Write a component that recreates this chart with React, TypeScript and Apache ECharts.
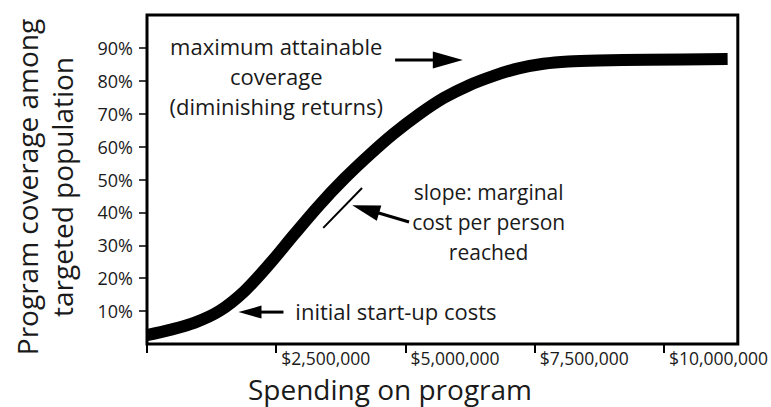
import React, { useEffect, useRef } from "react";
import * as echarts from "echarts";

// Curve: spending ($) vs coverage (%)
const spending = [0, 443000, 925000, 1407000, 1888000, 2370000, 2852000, 3333000, 3815000, 4297000, 4778000, 5260000, 5742000, 6224000, 6705000, 7187000, 7669000, 8150000, 8728000, 9692000, 11233000];
const coverage = [2.7, 4.3, 6.5, 10.1, 16.1, 24.3, 33.4, 42.2, 50.2, 57.4, 64.0, 69.8, 74.8, 78.6, 81.5, 83.8, 85.2, 85.9, 86.2, 86.4, 86.6];

// Short tangent segment (slope annotation)
const tangentX = [3410000, 4160000];
const tangentY = [35.3, 47.4];

// Axis ticks / labels
const xTickValues = [0, 2500000, 5000000, 7500000, 10000000];
const xLabelValues = [2500000, 5000000, 7500000, 10000000];
const yTickValues = [10, 20, 30, 40, 50, 60, 70, 80, 90];
const xMax = 11430000;

// Annotation texts
const maxText = "maximum attainable\ncoverage\n(diminishing returns)";
const slopeText = "slope: marginal\ncost per person\nreached";
const initText = "initial start-up costs";
const xTitle = "Spending on program";
const yTitle = "Program coverage among\ntargeted population";

const FONT = "'Open Sans', 'Noto Sans', sans-serif";

export default function App() {
  const ref = useRef<HTMLDivElement>(null);

  useEffect(() => {
    if (!ref.current) return;
    const chart = echarts.init(ref.current, undefined, { renderer: "svg" });
    chart.setOption({
      animation: false,
      backgroundColor: "#fff",
      textStyle: { fontFamily: FONT },
      grid: {
        left: 147,
        top: 15,
        right: 31,
        bottom: 63,
        show: true,
        borderColor: "#000",
        borderWidth: 3,
        backgroundColor: "transparent",
      },
      xAxis: {
        type: "value",
        min: 0,
        max: xMax,
        axisLine: { show: false },
        splitLine: { show: false },
        axisTick: {
          show: true,
          length: 9,
          customValues: xTickValues,
          lineStyle: { color: "#000", width: 2 },
        },
        axisLabel: {
          show: true,
          customValues: xLabelValues,
          align: "left",
          margin: 6,
          padding: [0, 0, 0, 5],
          fontSize: 17.5,
          lineHeight: 16,
          color: "#1a1a1a",
          fontFamily: FONT,
          formatter: (v: number) => "$" + v.toLocaleString("en-US"),
        },
      },
      yAxis: {
        type: "value",
        min: 0,
        max: 100,
        axisLine: { show: false },
        splitLine: { show: false },
        axisTick: {
          show: true,
          length: 8,
          customValues: yTickValues,
          lineStyle: { color: "#000", width: 1.5 },
        },
        axisLabel: {
          show: true,
          customValues: yTickValues,
          margin: 14,
          fontSize: 18,
          color: "#1a1a1a",
          fontFamily: FONT,
          formatter: (v: number) => v + "%",
        },
      },
      series: [
        {
          type: "line",
          name: "coverage",
          data: spending.map((x, i) => [x, coverage[i]]),
          smooth: 0.3,
          showSymbol: false,
          symbol: "none",
          clip: true,
          lineStyle: { color: "#000", width: 12, cap: "butt", join: "round" },
          z: 3,
        },
        {
          type: "line",
          name: "tangent",
          data: tangentX.map((x, i) => [x, tangentY[i]]),
          showSymbol: false,
          symbol: "none",
          lineStyle: { color: "#000", width: 2 },
          z: 3,
        },
      ],
    });

    const p = (x: number, y: number) =>
      chart.convertToPixel({ gridIndex: 0 }, [x, y]) as number[];

    const arrow = (tail: number[], tip: number[], headLen: number, headHalf: number, width: number) => {
      const dx = tip[0] - tail[0];
      const dy = tip[1] - tail[1];
      const len = Math.hypot(dx, dy);
      const ux = dx / len;
      const uy = dy / len;
      const bx = tip[0] - ux * headLen;
      const by = tip[1] - uy * headLen;
      const nx = -uy;
      const ny = ux;
      return [
        {
          type: "line",
          shape: { x1: tail[0], y1: tail[1], x2: bx + ux * 3, y2: by + uy * 3 },
          style: { stroke: "#000", lineWidth: width },
          z: 10,
        },
        {
          type: "polygon",
          shape: {
            points: [
              [tip[0], tip[1]],
              [bx + nx * headHalf, by + ny * headHalf],
              [bx - nx * headHalf, by - ny * headHalf],
            ],
          },
          style: { fill: "#000" },
          z: 10,
        },
      ];
    };

    const maxPos = p(2500000, 81.5);
    const slopePos = p(6610000, 37.1);
    const initPos = p(2870000, 10.0);

    chart.setOption({
      graphic: [
        ...arrow(p(4800000, 86.3), p(6110000, 86.3), 30, 8.5, 3),
        ...arrow(p(5070000, 37.1), p(3970000, 42.2), 28, 8, 3),
        ...arrow(p(2640000, 9.7), p(1770000, 9.7), 23, 6.5, 3),
        {
          type: "text",
          x: maxPos[0],
          y: maxPos[1],
          z: 10,
          style: {
            text: maxText,
            fontSize: 22,
            lineHeight: 30,
            fontFamily: FONT,
            fill: "#1a1a1a",
            align: "center",
            verticalAlign: "middle",
          },
        },
        {
          type: "text",
          x: slopePos[0],
          y: slopePos[1],
          z: 10,
          style: {
            text: slopeText,
            fontSize: 21,
            lineHeight: 30,
            fontFamily: FONT,
            fill: "#1a1a1a",
            align: "center",
            verticalAlign: "middle",
          },
        },
        {
          type: "text",
          x: initPos[0],
          y: initPos[1],
          z: 10,
          style: {
            text: initText,
            fontSize: 22,
            fontFamily: FONT,
            fill: "#1a1a1a",
            align: "left",
            verticalAlign: "middle",
          },
        },
        {
          type: "text",
          x: 390,
          y: 389,
          z: 10,
          style: {
            text: xTitle,
            fontSize: 28,
            lineHeight: 26,
            fontFamily: FONT,
            fill: "#1a1a1a",
            align: "center",
            verticalAlign: "middle",
          },
        },
        {
          type: "text",
          x: 44,
          y: 187,
          rotation: Math.PI / 2,
          z: 10,
          style: {
            text: yTitle,
            fontSize: 28,
            lineHeight: 35,
            fontFamily: FONT,
            fill: "#1a1a1a",
            align: "center",
            verticalAlign: "middle",
          },
        },
      ],
    });

    return () => chart.dispose();
  }, []);

  return (
    <div
      ref={ref}
      style={{ position: "fixed", left: 0, top: 0, width: 771, height: 407 }}
    />
  );
}
